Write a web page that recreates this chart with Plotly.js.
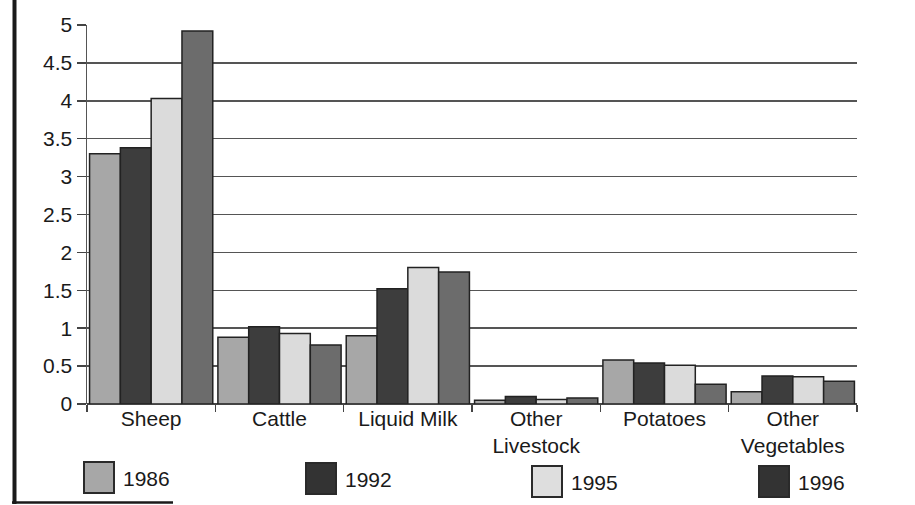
<!DOCTYPE html>
<html>
<head>
<meta charset="utf-8">
<script src="https://cdn.plot.ly/plotly-3.0.1.min.js"></script>
<style>
html,body{margin:0;padding:0;background:#fff;}
#chart{width:915px;height:505px;}
</style>
</head>
<body>
<div id="chart"></div>
<script>
// Categories and series
var categories = ["Sheep", "Cattle", "Liquid Milk", "Other<br>Livestock", "Potatoes", "Other<br>Vegetables"];
var seriesNames = ["1986", "1992", "1995", "1996"];
var v1986 = [3.30, 0.88, 0.90, 0.05, 0.58, 0.16];
var v1992 = [3.38, 1.02, 1.52, 0.10, 0.54, 0.37];
var v1995 = [4.03, 0.93, 1.80, 0.06, 0.51, 0.36];
var v1996 = [4.92, 0.78, 1.74, 0.08, 0.26, 0.30];
var yTickVals = [0, 0.5, 1, 1.5, 2, 2.5, 3, 3.5, 4, 4.5, 5];
var yTickText = ["0", "0.5", "1", "1.5", "2", "2.5", "3", "3.5", "4", "4.5", "5"];

var seriesValues = [v1986, v1992, v1995, v1996];
var barColors = ["#a7a7a7", "#3d3d3d", "#dbdbdb", "#6c6c6c"];
var legendColors = ["#a7a7a7", "#333333", "#dedede", "#333333"];

var FONT = "Liberation Sans, Arial, Helvetica, sans-serif";

var traces = seriesNames.map(function (name, i) {
  return {
    type: "bar",
    name: name,
    x: categories,
    y: seriesValues[i],
    marker: {color: barColors[i], line: {color: "#222222", width: 1.5}},
    showlegend: false,
    hoverinfo: "x+y+name"
  };
});

// Custom legend (large swatches) in pixel positions converted to paper coords
var L = 87, R = 58, T = 25, B = 101, W = 915, H = 505;
var pw = W - L - R, ph = H - T - B;
function px(x) { return (x - L) / pw; }
function py(y) { return (H - B - y) / ph; }
var legX = [84, 306, 532, 759];
var legY = [462, 463, 466, 466];
var shapes = [];
var annotations = [];
seriesNames.forEach(function (name, i) {
  shapes.push({
    type: "rect", xref: "paper", yref: "paper",
    x0: px(legX[i]), x1: px(legX[i] + 30),
    y0: py(legY[i] + 31), y1: py(legY[i]),
    fillcolor: legendColors[i],
    line: {color: "#2a2a2a", width: 2}
  });
  annotations.push({
    xref: "paper", yref: "paper",
    x: px(legX[i] + 37), y: py(legY[i] + 16),
    xanchor: "left", yanchor: "middle",
    text: name, showarrow: false,
    font: {family: FONT, size: 21, color: "#1a1a1a"}
  });
});
// Left and bottom frame lines of the scanned figure
shapes.push({type: "line", xref: "paper", yref: "paper",
  x0: px(14.5), x1: px(14.5), y0: py(0), y1: py(504),
  line: {color: "#1a1a1a", width: 4}});
shapes.push({type: "line", xref: "paper", yref: "paper",
  x0: px(12), x1: px(173), y0: py(502.5), y1: py(502.5),
  line: {color: "#1a1a1a", width: 2.5}});

var layout = {
  width: W, height: H,
  margin: {l: L, r: R, t: T, b: B, pad: 0},
  paper_bgcolor: "#ffffff",
  plot_bgcolor: "#ffffff",
  barmode: "group",
  bargap: 0.04,
  bargroupgap: 0,
  font: {family: FONT, size: 21, color: "#1a1a1a"},
  xaxis: {
    type: "category",
    tickson: "boundaries",
    ticks: "outside",
    ticklen: 7,
    tickwidth: 1.5,
    tickcolor: "#444444",
    showline: false,
    showgrid: false,
    tickfont: {family: FONT, size: 21, color: "#1a1a1a"},
    fixedrange: true
  },
  yaxis: {
    range: [0, 5],
    tickvals: yTickVals,
    ticktext: yTickText,
    ticks: "outside",
    ticklen: 9,
    tickwidth: 1.5,
    tickcolor: "#444444",
    showline: true,
    linecolor: "#555555",
    linewidth: 1.5,
    showgrid: true,
    gridcolor: "#555555",
    gridwidth: 1.5,
    zeroline: true,
    zerolinecolor: "#444444",
    zerolinewidth: 1.5,
    tickfont: {family: FONT, size: 21, color: "#1a1a1a"},
    fixedrange: true
  },
  shapes: shapes,
  annotations: annotations,
  showlegend: false
};

Plotly.newPlot("chart", traces, layout, {displayModeBar: false, staticPlot: true});
</script>
</body>
</html>
